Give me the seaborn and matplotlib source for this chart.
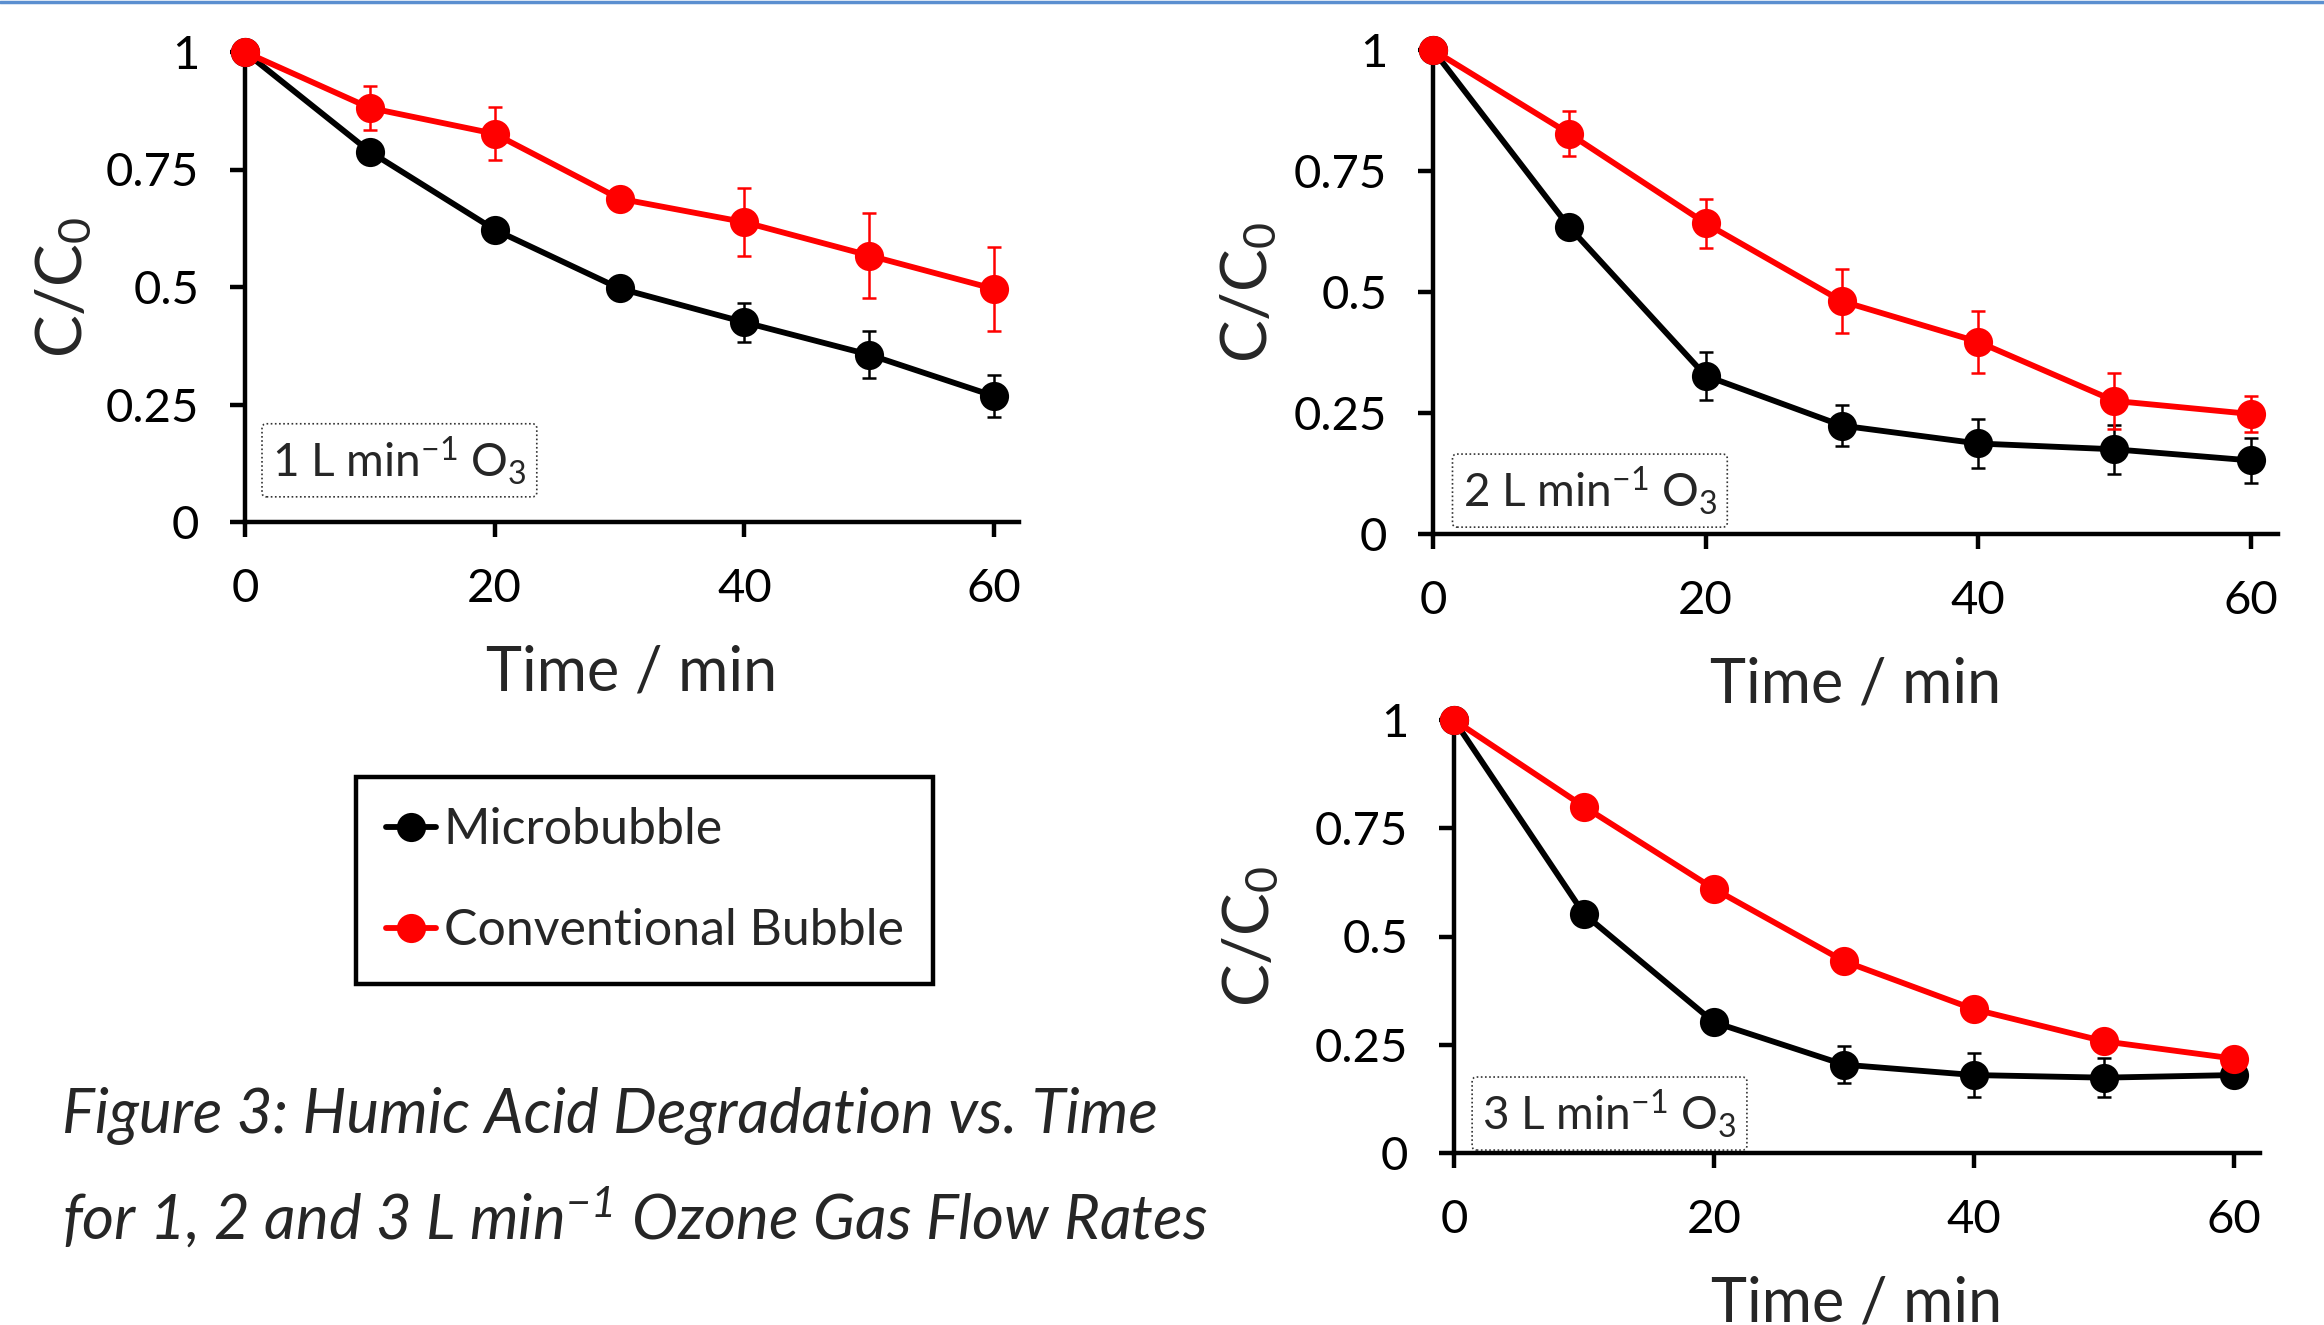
import numpy as np
import pandas as pd
import matplotlib
matplotlib.use("Agg")
import matplotlib.pyplot as plt
import seaborn as sns
from matplotlib.lines import Line2D

# ---------------- data ----------------
time = [0, 10, 20, 30, 40, 50, 60]
series_names = ["Microbubble", "Conventional Bubble"]
flow_labels = [r"1 L min$^{-1}$ O$_3$", r"2 L min$^{-1}$ O$_3$", r"3 L min$^{-1}$ O$_3$"]

micro_1 = [1.0, 0.788, 0.622, 0.497, 0.425, 0.356, 0.268]
micro_1_err = [0.0, 0.010, 0.015, 0.010, 0.041, 0.050, 0.045]
conv_1 = [1.0, 0.881, 0.826, 0.688, 0.638, 0.567, 0.496]
conv_1_err = [0.0, 0.047, 0.056, 0.010, 0.072, 0.091, 0.089]

micro_2 = [1.0, 0.634, 0.327, 0.224, 0.187, 0.175, 0.152]
micro_2_err = [0.0, 0.010, 0.050, 0.042, 0.051, 0.050, 0.046]
conv_2 = [1.0, 0.827, 0.642, 0.481, 0.397, 0.275, 0.248]
conv_2_err = [0.0, 0.047, 0.051, 0.066, 0.064, 0.058, 0.038]

micro_3 = [1.0, 0.552, 0.302, 0.204, 0.180, 0.174, 0.180]
micro_3_err = [0.0, 0.010, 0.010, 0.043, 0.050, 0.045, 0.025]
conv_3 = [1.0, 0.800, 0.610, 0.443, 0.332, 0.258, 0.218]
conv_3_err = [0.0, 0.010, 0.010, 0.010, 0.010, 0.010, 0.010]

x_ticks = [0, 20, 40, 60]
y_ticks = [0, 0.25, 0.5, 0.75, 1]
y_tick_labels = ["0", "0.25", "0.5", "0.75", "1"]

caption_1 = "Figure 3: Humic Acid Degradation vs. Time"
caption_2 = r"for 1, 2 and 3 L min$^{-1}$ Ozone Gas Flow Rates"

# ---------------- style ----------------
sns.set_style("ticks")
plt.rcParams["font.family"] = ["Lato", "DejaVu Sans"]
plt.rcParams["mathtext.default"] = "regular"

colors = {"Microbubble": "black", "Conventional Bubble": "red"}

panels = [
    (micro_1, micro_1_err, conv_1, conv_1_err),
    (micro_2, micro_2_err, conv_2, conv_2_err),
    (micro_3, micro_3_err, conv_3, conv_3_err),
]

W, H = 2324, 1325
fig = plt.figure(figsize=(W / 100, H / 100), dpi=100)

def px_rect(l, t, r, b):
    return [l / W, 1 - b / H, (r - l) / W, (b - t) / H]

axes_rects = [
    px_rect(245, 52, 1019, 522),
    px_rect(1433, 50, 2278, 534),
    px_rect(1454, 720, 2260, 1153),
]
box_pos = [(0.035, 0.075), (0.035, 0.035), (0.035, 0.03)]
ylabel_x = [-0.195, -0.182, -0.215]

MS = 21
LW = 4.2

for i, (rect, (m, me, c, ce)) in enumerate(zip(axes_rects, panels)):
    ax = fig.add_axes(rect)
    df = pd.DataFrame({
        "time": time * 2,
        "value": m + c,
        "err": me + ce,
        "series": [series_names[0]] * len(time) + [series_names[1]] * len(time),
    })
    for name in series_names:
        sub = df[df["series"] == name]
        ax.errorbar(sub["time"], sub["value"], yerr=sub["err"], fmt="none",
                    ecolor=colors[name], elinewidth=1.8, capsize=5, capthick=1.8,
                    zorder=1, clip_on=False)
    sns.lineplot(data=df, x="time", y="value", hue="series", palette=colors,
                 hue_order=series_names, marker="o", markersize=MS,
                 markeredgewidth=0, linewidth=LW, legend=False, ax=ax,
                 zorder=3, clip_on=False)
    ax.set_xlim(0, 62)
    ax.set_ylim(0, 1)
    ax.set_xticks(x_ticks)
    ax.set_xticklabels([str(t) for t in x_ticks])
    ax.set_yticks(y_ticks)
    ax.set_yticklabels(y_tick_labels)
    sns.despine(ax=ax)
    for s in ["left", "bottom"]:
        ax.spines[s].set_linewidth(3.2)
        ax.spines[s].set_color("black")
    ax.tick_params(axis="both", direction="out", length=11, width=3.2,
                   labelsize=34, colors="black")
    ax.tick_params(axis="x", pad=22)
    ax.tick_params(axis="y", pad=22)
    ax.set_xlabel("Time / min", fontsize=44, labelpad=25)
    ax.set_ylabel("C/C$_0$", fontsize=46)
    ax.yaxis.set_label_coords(ylabel_x[i], 0.5)
    ax.text(box_pos[i][0], box_pos[i][1], flow_labels[i], transform=ax.transAxes,
            fontsize=33, ha="left", va="bottom",
            bbox=dict(boxstyle="round,pad=0.22,rounding_size=0.1", fc="white",
                      ec="#333333", lw=1.2, ls=(0, (1, 1.5))))

# legend
handles = [Line2D([0], [0], color=colors[n], marker="o", markersize=MS,
                  markeredgewidth=0, linewidth=LW) for n in series_names]
leg = fig.legend(handles, series_names, loc="upper left",
                 bbox_to_anchor=(356 / W, 1 - 777 / H), frameon=True,
                 fancybox=False, edgecolor="black", framealpha=1,
                 fontsize=36, handlelength=1.0, handletextpad=0.15,
                 labelspacing=1.1, borderpad=0.6, borderaxespad=0)
leg.get_frame().set_linewidth(3.2)

# caption
fig.text(62 / W, 1 - 1116 / H, caption_1, fontsize=44.5, style="italic",
         ha="left", va="center")
fig.text(62 / W, 1 - 1218 / H, caption_2, fontsize=44.5, style="italic",
         ha="left", va="center")

# thin blue rule at the top
fig.add_artist(Line2D([0, 1], [1 - 1.5 / H, 1 - 1.5 / H], color="#5b8fd0",
                      lw=2.5, transform=fig.transFigure))

fig.savefig("out.png", dpi=100)
